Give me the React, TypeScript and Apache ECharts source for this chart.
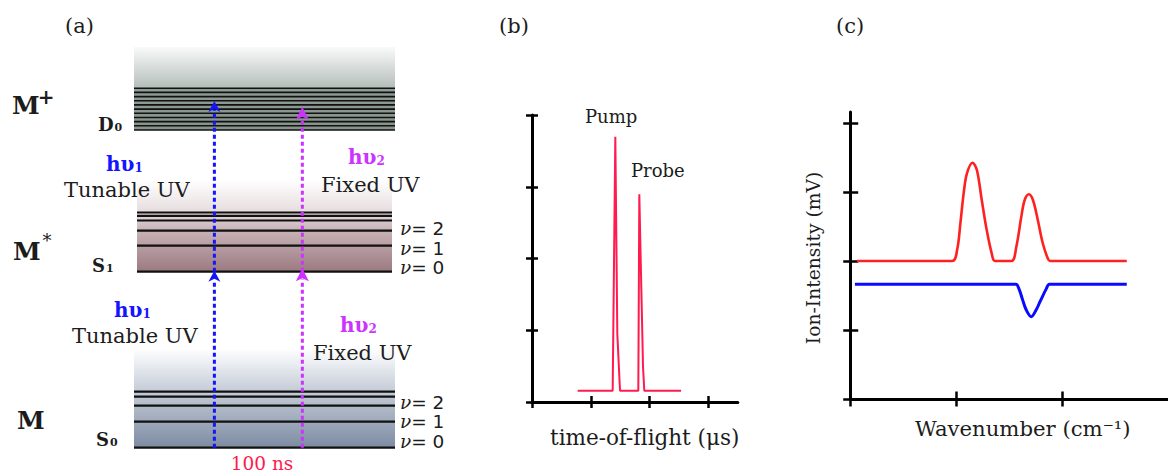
import React, { useEffect, useRef } from "react";
import * as echarts from "echarts";

// ---------- Panel (a): energy diagram (energy units, 0 = S0 v=0) ----------
const S0_LEVELS = [0, 26, 42, 51, 56];
const S1_LEVELS = [176, 202, 217, 227.2, 231.9, 235.2];
const D0_LEVELS = [317.7, 321.9, 326.1, 330.2, 334.4, 338.6, 342.8, 346.9, 351.1, 355.3, 359.4];
// boxes: [xStart, xEnd, eBottom, eTop]
const S0_BOX = [0, 100, 0, 97.7];
const S1_BOX = [1.15, 98.85, 176, 267.7];
const D0_BOX = [0, 100, 359.4, 400.7];
const D0_BAND = [0, 100, 317.7, 359.4];
// arrows: [x, eFrom, eTip]
const PUMP_ARROWS = [[30.8, 0, 177], [30.8, 176, 346.7]];
const PROBE_ARROWS = [[64.5, 0, 179.5], [64.5, 176, 341]];

// ---------- Panel (b): time-of-flight trace ----------
const TOF_X = [0.777, 1.372, 1.417, 1.451, 1.497, 1.808, 1.825, 1.888, 1.91, 2.534];
const TOF_Y = [0.157, 0.157, 3.698, 0.95, 0.157, 0.157, 2.895, 0.49, 0.157, 0.157];
const TOF_Y_TICKS = [0, 1, 2, 3, 4];
const TOF_X_TICKS = [0, 1, 2, 3];

// ---------- Panel (c): spectra ----------
const RED_X = [0.059, 0.959, 1.006, 1.037, 1.068, 1.099, 1.152, 1.193, 1.239, 1.286, 1.333, 1.364,
  1.52, 1.566, 1.613, 1.645, 1.685, 1.723, 1.769, 1.816, 1.863, 1.884, 2.61];
const RED_Y = [2.0, 2.0, 2.159, 2.546, 2.981, 3.271, 3.425, 3.319, 2.884, 2.449, 2.112, 2.0,
  2.0, 2.207, 2.642, 2.884, 2.967, 2.884, 2.594, 2.257, 2.039, 2.0, 2.0];
const BLUE_X = [0.04, 1.561, 1.59, 1.625, 1.66, 1.707, 1.753, 1.79, 1.85, 1.879, 2.61];
const BLUE_Y = [1.662, 1.662, 1.6, 1.44, 1.29, 1.193, 1.29, 1.41, 1.6, 1.662, 1.662];
const WN_X_TICKS = [0, 1, 2];
const WN_Y_TICKS = [0, 1, 2, 3, 4];

const SERIF = '"DejaVu Serif", serif';
const BLUE = "#1414ff";
const MAGENTA = "#cc33ff";
const INK = "#1c1c1c";

const S0_GRAD = [
  { offset: 0, color: "#fdfdfe" },
  { offset: 0.2, color: "#e2e6ec" },
  { offset: 0.42, color: "#c5ccd7" },
  { offset: 1, color: "#7d8ba2" },
];
const S1_GRAD = [
  { offset: 0, color: "#ffffff" },
  { offset: 0.35, color: "#e6dcde" },
  { offset: 0.55, color: "#c8b3b7" },
  { offset: 1, color: "#9b7a80" },
];
const D0_GRAD = [
  { offset: 0, color: "#f9fafa" },
  { offset: 1, color: "#b4bdb9" },
];
const D0_BAND_GRAD = [
  { offset: 0, color: "#8f9c95" },
  { offset: 1, color: "#87948c" },
];

function boxRender(stops: any) {
  return (params: any, api: any) => {
    const p0 = api.coord([api.value(0), api.value(3)]);
    const p1 = api.coord([api.value(1), api.value(2)]);
    return {
      type: "rect",
      shape: { x: p0[0], y: p0[1], width: p1[0] - p0[0], height: p1[1] - p0[1] },
      style: { fill: new echarts.graphic.LinearGradient(0, 0, 0, 1, stops) },
    };
  };
}

function levelRender(width: number) {
  return (params: any, api: any) => {
    const a = api.coord([api.value(0), api.value(2)]);
    const b = api.coord([api.value(1), api.value(2)]);
    return {
      type: "line",
      shape: { x1: a[0], y1: a[1], x2: b[0], y2: b[1] },
      style: { stroke: "#111", lineWidth: width },
    };
  };
}

function arrowRender(color: string, headH: number, headW: number) {
  return (params: any, api: any) => {
    const a = api.coord([api.value(0), api.value(1)]);
    const t = api.coord([api.value(0), api.value(2)]);
    return {
      type: "group",
      children: [
        {
          type: "line",
          shape: { x1: a[0], y1: a[1], x2: t[0], y2: t[1] + headH - 2 },
          style: { stroke: color, lineWidth: 3, lineDash: [4, 3] },
        },
        {
          type: "polygon",
          shape: {
            points: [
              [t[0], t[1]],
              [t[0] - headW / 2, t[1] + headH],
              [t[0], t[1] + headH - 3],
              [t[0] + headW / 2, t[1] + headH],
            ],
          },
          style: { fill: color },
        },
      ],
    };
  };
}

function txt(text: string, x: number, y: number, size: number, o: any = {}) {
  const align = o.align || "left";
  return {
    type: "text",
    x,
    y,
    z: 100,
    rotation: o.rotation || 0,
    silent: true,
    style: {
      text,
      fill: o.color || INK,
      font: `${o.weight || "normal"} ${size}px ${o.family || SERIF}`,
      align,
      verticalAlign: "middle",
      textAlign: align,
      textVerticalAlign: "middle",
      rich: o.rich,
      lineHeight: o.lineHeight,
    },
  };
}

const NU_RICH = {
  v: { fontStyle: "italic", fontFamily: SERIF, fontSize: 18.5, fill: INK, lineHeight: 15, verticalAlign: "middle" },
  n: { fontFamily: '"DejaVu Sans", sans-serif', fontSize: 18.5, fill: INK, lineHeight: 15, verticalAlign: "middle" },
};
const nu = (k: string, x: number, y: number) =>
  txt(`{v|ν}{n|= ${k}}`, x, y, 18.5, { rich: NU_RICH, lineHeight: 15 });

// symbol + subscript digit as two texts
function sub(main: string, digit: string, x: number, y: number, size: number, subX: number, color = INK) {
  return [
    txt(main, x, y, size, { weight: "bold", color }),
    txt(digit, subX, y + size * 0.18, Math.round(size * 0.62), { weight: "bold", color }),
  ];
}

function axisPair(base: any, tickVals: number[] | null, len: number) {
  const tick: any = { show: true, length: len, lineStyle: { color: "#000", width: 2.5 } };
  if (tickVals) tick.customValues = tickVals;
  const main = {
    ...base,
    axisLine: { show: true, onZero: false, lineStyle: { color: "#000", width: 3 } },
    axisTick: { ...tick, inside: false },
    axisLabel: { show: false },
    splitLine: { show: false },
  };
  const twin = {
    ...base,
    axisLine: { show: false, onZero: false },
    axisTick: { ...tick, inside: true },
    axisLabel: { show: false },
    splitLine: { show: false },
  };
  return [main, twin];
}

export default function App() {
  const ref = useRef<HTMLDivElement>(null);
  useEffect(() => {
    const chart = echarts.init(ref.current!, null, { renderer: "svg" });
    const [bx, bxT] = axisPair({ type: "value", gridIndex: 1, min: 0, max: 3.5, position: "bottom" }, TOF_X_TICKS, 6);
    const [by, byT] = axisPair({ type: "value", gridIndex: 1, min: 0, max: 4, interval: 1, position: "left" }, TOF_Y_TICKS, 6);
    const [cx, cxT] = axisPair({ type: "value", gridIndex: 2, min: 0, max: 3, position: "bottom" }, WN_X_TICKS, 7.5);
    const [cy, cyT] = axisPair({ type: "value", gridIndex: 2, min: 0, max: 4.16, position: "left" }, WN_Y_TICKS, 7.5);

    const option: any = {
      animation: false,
      backgroundColor: "#ffffff",
      grid: [
        { left: 134, top: 46.7, width: 261, height: 401 },
        { left: 532, top: 115, width: 205.8, height: 287 },
        { left: 850.7, top: 112, width: 321, height: 287 },
      ],
      xAxis: [
        { type: "value", gridIndex: 0, min: 0, max: 100, show: false },
        bx, bxT, cx, cxT,
      ],
      yAxis: [
        { type: "value", gridIndex: 0, min: 0, max: 401, show: false },
        by, byT, cy, cyT,
      ],
      series: [
        { type: "custom", name: "S0 box", xAxisIndex: 0, yAxisIndex: 0, clip: false, silent: true, data: [S0_BOX], renderItem: boxRender(S0_GRAD) },
        { type: "custom", name: "S1 box", xAxisIndex: 0, yAxisIndex: 0, clip: false, silent: true, data: [S1_BOX], renderItem: boxRender(S1_GRAD) },
        { type: "custom", name: "D0 box", xAxisIndex: 0, yAxisIndex: 0, clip: false, silent: true, data: [D0_BOX], renderItem: boxRender(D0_GRAD) },
        { type: "custom", name: "D0 band", xAxisIndex: 0, yAxisIndex: 0, clip: false, silent: true, data: [D0_BAND], renderItem: boxRender(D0_BAND_GRAD) },
        { type: "custom", name: "S0 levels", xAxisIndex: 0, yAxisIndex: 0, clip: false, silent: true,
          data: S0_LEVELS.map((e) => [S0_BOX[0], S0_BOX[1], e]), renderItem: levelRender(2.2) },
        { type: "custom", name: "S1 levels", xAxisIndex: 0, yAxisIndex: 0, clip: false, silent: true,
          data: S1_LEVELS.map((e) => [S1_BOX[0], S1_BOX[1], e]), renderItem: levelRender(2.2) },
        { type: "custom", name: "D0 levels", xAxisIndex: 0, yAxisIndex: 0, clip: false, silent: true,
          data: D0_LEVELS.map((e) => [D0_BAND[0], D0_BAND[1], e]), renderItem: levelRender(1.6) },
        { type: "custom", name: "hv1", xAxisIndex: 0, yAxisIndex: 0, clip: false, silent: true, z: 5,
          data: PUMP_ARROWS, renderItem: arrowRender(BLUE, 11, 12) },
        { type: "custom", name: "hv2", xAxisIndex: 0, yAxisIndex: 0, clip: false, silent: true, z: 5,
          data: PROBE_ARROWS, renderItem: arrowRender(MAGENTA, 13, 13) },
        { type: "line", name: "TOF", xAxisIndex: 1, yAxisIndex: 1, symbol: "none", silent: true,
          lineStyle: { color: "#ff1a4f", width: 2 }, data: TOF_X.map((x, i) => [x, TOF_Y[i]]) },
        { type: "line", name: "red", xAxisIndex: 3, yAxisIndex: 3, symbol: "none", silent: true, smooth: 0.35,
          lineStyle: { color: "#ff2020", width: 2.6 }, data: RED_X.map((x, i) => [x, RED_Y[i]]) },
        { type: "line", name: "blue", xAxisIndex: 3, yAxisIndex: 3, symbol: "none", silent: true, smooth: 0.35,
          lineStyle: { color: "#0a0aff", width: 3 }, data: BLUE_X.map((x, i) => [x, BLUE_Y[i]]) },
      ],
      graphic: [
        // panel (a)
        txt("(a)", 65, 26, 21),
        txt("M", 12, 105, 25, { weight: "bold" }),
        txt("+", 46, 97, 20, { weight: "bold", align: "center" }),
        ...sub("D", "0", 98, 124, 18, 114.5),
        ...sub("hυ", "1", 106, 164, 20, 134.5, BLUE),
        txt("Tunable UV", 64, 190, 21),
        ...sub("hυ", "2", 348, 157, 20, 376.5, MAGENTA),
        txt("Fixed UV", 321, 185, 21),
        txt("M", 13, 251.5, 25, { weight: "bold" }),
        txt("*", 47, 240, 18, { align: "center" }),
        ...sub("S", "1", 92, 265, 18, 106),
        nu("2", 400, 228), nu("1", 400, 248), nu("0", 400, 267),
        ...sub("hυ", "1", 114, 310, 20, 142.5, BLUE),
        txt("Tunable UV", 72, 336, 21),
        ...sub("hυ", "2", 340, 325, 20, 368.5, MAGENTA),
        txt("Fixed UV", 313, 353, 21),
        txt("M", 17, 420.5, 25, { weight: "bold" }),
        ...sub("S", "0", 96, 439, 18, 110),
        nu("2", 400, 402), nu("1", 400, 421), nu("0", 400, 441),
        txt("100 ns", 262, 463, 18.5, { color: "#ff1a4d", align: "center" }),
        // panel (b)
        txt("(b)", 499, 26, 21),
        txt("Pump", 585, 116, 18),
        txt("Probe", 631, 170, 18),
        txt("time-of-flight (μs)", 550, 437, 21.5),
        // panel (c)
        txt("(c)", 836, 26, 21),
        txt("Ion-Intensity (mV)", 813, 258, 18.7, { rotation: Math.PI / 2, align: "center" }),
        txt("Wavenumber (cm⁻¹)", 915, 428, 21.2),
      ],
    };
    chart.setOption(option);
    return () => chart.dispose();
  }, []);
  return (
    <div
      ref={ref}
      style={{ position: "fixed", left: 0, top: 0, width: 1168, height: 472, background: "#fff" }}
    />
  );
}
